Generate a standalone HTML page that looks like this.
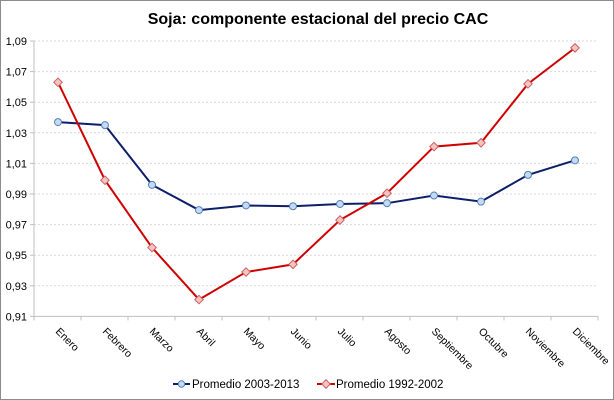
<!DOCTYPE html>
<html><head><meta charset="utf-8"><style>
body{margin:0;background:#fff}
svg{display:block;font-family:"Liberation Sans",sans-serif}
</style></head><body>
<svg width="614" height="400" viewBox="0 0 614 400">
<rect x="0.5" y="0.5" width="613" height="399" fill="#fff" stroke="#8c8c8c"/>
<text x="318" y="24" text-anchor="middle" font-size="16" font-weight="bold" fill="#000">Soja: componente estacional del precio CAC</text>
<g id="grid"></g>
<g id="plot"></g>
</svg>
<script>
const NS="http://www.w3.org/2000/svg";
const g=document.getElementById('grid'),p=document.getElementById('plot');
function el(t,a,parent,txt){const e=document.createElementNS(NS,t);for(const k in a)e.setAttribute(k,a[k]);if(txt!==undefined)e.textContent=txt;parent.appendChild(e);return e;}
const Y=v=>41+(1.09-v)/0.02*30.6;
const X=i=>58+47*i;
for(let k=0;k<10;k++){const v=1.09-0.02*k,y=Y(v);
 if(k<9)el('line',{x1:34,x2:598,y1:y,y2:y,stroke:'#d9d9d9','stroke-dasharray':'2,2'},g);
 el('line',{x1:30,x2:34,y1:y,y2:y,stroke:'#bfbfbf'},g);
 el('text',{x:27,y:y+4,'text-anchor':'end','font-size':11,fill:'#000'},g,v.toFixed(2).replace('.',','));}
el('line',{x1:34,x2:34,y1:41,y2:Y(0.91),stroke:'#bfbfbf'},g);
el('line',{x1:34,x2:598,y1:Y(0.91),y2:Y(0.91),stroke:'#bfbfbf'},g);
const m=['Enero','Febrero','Marzo','Abril','Mayo','Junio','Julio','Agosto','Septiembre','Octubre','Noviembre','Diciembre'];
for(let i=0;i<=12;i++)el('line',{x1:34+47*i,x2:34+47*i,y1:Y(0.91),y2:Y(0.91)+4,stroke:'#bfbfbf'},g);
m.forEach((t,i)=>el('text',{x:X(i)-3,y:332,'font-size':10.5,fill:'#000',transform:`rotate(45 ${X(i)-3} 332)`},g,t));
const b=[1.037,1.035,0.996,0.9795,0.9825,0.982,0.9835,0.984,0.989,0.985,1.0025,1.012];
const r=[1.063,0.999,0.955,0.921,0.939,0.944,0.973,0.9905,1.021,1.0235,1.062,1.0855];
el('polyline',{points:b.map((v,i)=>X(i)+','+Y(v)).join(' '),fill:'none',stroke:'#0d1f6b','stroke-width':2},p);
el('polyline',{points:r.map((v,i)=>X(i)+','+Y(v)).join(' '),fill:'none',stroke:'#d00000','stroke-width':2},p);
b.forEach((v,i)=>el('circle',{cx:X(i),cy:Y(v),r:3.5,fill:'#c6d9f1',stroke:'#4f81bd','stroke-width':1},p));
r.forEach((v,i)=>el('rect',{x:X(i)-3,y:Y(v)-3,width:6,height:6,fill:'#f2c4c4',stroke:'#d06060','stroke-width':1,transform:`rotate(45 ${X(i)} ${Y(v)})`},p));
el('line',{x1:173,x2:190,y1:384,y2:384,stroke:'#0d1f6b','stroke-width':2},p);
el('circle',{cx:181.5,cy:384,r:3.2,fill:'#c6d9f1',stroke:'#4f81bd'},p);
el('text',{x:192,y:388,'font-size':11.5,fill:'#000'},p,'Promedio 2003-2013');
el('line',{x1:317,x2:335,y1:384,y2:384,stroke:'#d00000','stroke-width':2},p);
el('rect',{x:323,y:381,width:6,height:6,fill:'#f2c4c4',stroke:'#d06060',transform:'rotate(45 326 384)'},p);
el('text',{x:336,y:388,'font-size':11.5,fill:'#000'},p,'Promedio 1992-2002');
</script>
</body></html>
